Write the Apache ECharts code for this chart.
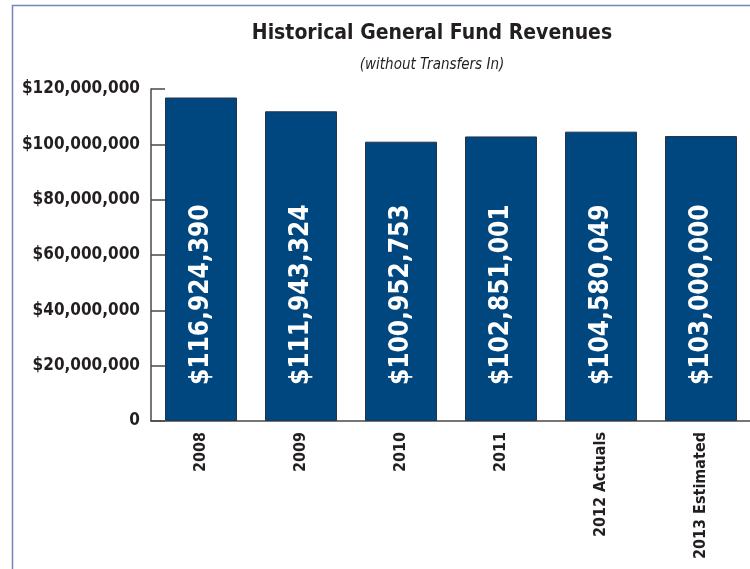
<!DOCTYPE html>
<html>
<head>
<meta charset="utf-8">
<script src="https://cdn.jsdelivr.net/npm/echarts@6/dist/echarts.min.js"></script>
<style>
  html, body { margin: 0; padding: 0; background: #fff; }
  #chart { width: 750px; height: 569px; }
</style>
</head>
<body>
<div id="chart"></div>
<script>
// data
var years = ['2008', '2009', '2010', '2011', '2012 Actuals', '2013 Estimated'];
var revenues = [116924390, 111943324, 100952753, 102851001, 104580049, 103000000];
var yTicks = [0, 20000000, 40000000, 60000000, 80000000, 100000000, 120000000];

var narrow = "'DejaVu Sans Condensed', 'Liberation Sans Narrow', sans-serif";

function money(v) {
  if (v === 0) return '0';
  return '$' + v.toString().replace(/\B(?=(\d{3})+(?!\d))/g, ',');
}

var chart = echarts.init(document.getElementById('chart'));

var option = {
  animation: false,
  title: [
    {
      text: 'Historical General Fund Revenues',
      left: 427, top: 18, textAlign: 'center',
      textStyle: { fontFamily: narrow, fontSize: 21, fontWeight: 'bold', color: '#231f20' }
    },
    {
      text: '(without Transfers In)',
      left: 427, top: 53, textAlign: 'center',
      textStyle: { fontFamily: narrow, fontSize: 15, fontStyle: 'italic', fontWeight: 'normal', color: '#231f20' }
    }
  ],
  graphic: [
    {
      type: 'rect',
      shape: { x: 12.5, y: 5.5, width: 800, height: 700 },
      style: { fill: 'none', stroke: '#7584bd', lineWidth: 1.5 },
      silent: true
    }
  ],
  grid: { left: 151, top: 89, width: 600, height: 332, outerBoundsMode: 'none' },
  xAxis: {
    type: 'category',
    data: years,
    axisLine: { lineStyle: { color: '#4a4a4a', width: 1.5 } },
    axisTick: { inside: true, length: 8, lineStyle: { color: '#4a4a4a' } },
    axisLabel: {
      rotate: 90, margin: 11, interval: 0,
      fontFamily: narrow, fontSize: 16, fontWeight: 'bold', color: '#231f20'
    }
  },
  yAxis: {
    type: 'value',
    min: yTicks[0],
    max: yTicks[yTicks.length - 1],
    interval: yTicks[1] - yTicks[0],
    splitLine: { show: false },
    axisLine: { show: true, lineStyle: { color: '#4a4a4a', width: 1.5 } },
    axisTick: { show: true, inside: true, length: 14, lineStyle: { color: '#4a4a4a', width: 1.5 } },
    axisLabel: {
      margin: 11, formatter: money,
      fontFamily: narrow, fontSize: 17, fontWeight: 'bold', color: '#231f20'
    }
  },
  series: [
    {
      type: 'bar',
      data: revenues,
      barWidth: 72,
      itemStyle: { color: '#00467f', borderColor: '#25344a', borderWidth: 1 },
      label: {
        show: true,
        position: 'insideBottom',
        distance: 36,
        rotate: 90,
        align: 'left',
        verticalAlign: 'middle',
        formatter: function (p) { return money(p.value); },
        fontFamily: narrow, fontSize: 26, fontWeight: 'bold', color: '#ffffff'
      }
    }
  ]
};

chart.setOption(option);
</script>
</body>
</html>
